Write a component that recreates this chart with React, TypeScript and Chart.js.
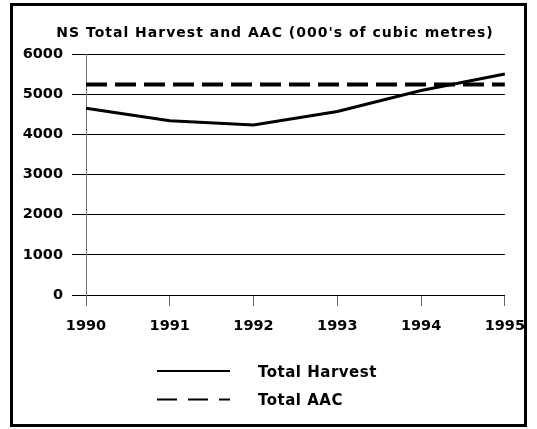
import React, { useEffect, useRef } from 'react';
import { Chart, registerables } from 'chart.js';

Chart.register(...registerables);

const years = ['1990', '1991', '1992', '1993', '1994', '1995'];
const totalHarvest = [4650, 4340, 4235, 4570, 5090, 5500];
const totalAAC = [5240, 5240, 5240, 5240, 5240, 5240];
const seriesLabels = ['Total Harvest', 'Total AAC'];
const titleText = "NS Total Harvest and AAC (000's of cubic metres)";
const yMin = 0;
const yMax = 6000;
const yStep = 1000;

const FONT = '"DejaVu Sans", Verdana, sans-serif';
const legendDashes: number[][] = [[], [20, 11]];

const framePlugin = {
  id: 'framePlugin',
  afterDraw(chart: any) {
    const ctx = chart.ctx;
    ctx.save();
    ctx.setLineDash([]);
    ctx.lineWidth = 3;
    ctx.strokeStyle = '#000';
    ctx.strokeRect(11.5, 4.5, 514, 421);

    ctx.fillStyle = '#000';
    ctx.font = `bold 14px ${FONT}`;
    ctx.letterSpacing = '1px';
    ctx.textAlign = 'center';
    ctx.textBaseline = 'alphabetic';
    ctx.fillText(titleText, 275, 37);

    chart.data.datasets.forEach((ds: any, i: number) => {
      const y = 371 + i * 28.5;
      ctx.beginPath();
      ctx.setLineDash(legendDashes[i] || []);
      ctx.lineWidth = 2;
      ctx.lineCap = 'butt';
      ctx.strokeStyle = ds.borderColor;
      ctx.moveTo(157, y);
      ctx.lineTo(230, y);
      ctx.stroke();
      ctx.setLineDash([]);
      ctx.font = `bold 15px ${FONT}`;
      ctx.letterSpacing = '0.5px';
      ctx.textAlign = 'left';
      ctx.textBaseline = 'alphabetic';
      ctx.fillStyle = '#000';
      ctx.fillText(ds.label, 258, y + 5.5);
    });
    ctx.restore();
  },
};

export default function App() {
  const canvasRef = useRef<HTMLCanvasElement | null>(null);

  useEffect(() => {
    if (!canvasRef.current) return;
    const chart = new Chart(canvasRef.current, {
      type: 'line',
      data: {
        labels: years,
        datasets: [
          {
            label: seriesLabels[0],
            data: totalHarvest,
            borderColor: '#000',
            backgroundColor: '#000',
            borderWidth: 3,
            pointRadius: 0,
            tension: 0,
            fill: false,
          },
          {
            label: seriesLabels[1],
            data: totalAAC,
            borderColor: '#000',
            backgroundColor: '#000',
            borderWidth: 4,
            borderDash: [21, 8],
            borderCapStyle: 'butt',
            pointRadius: 0,
            tension: 0,
            fill: false,
          },
        ],
      },
      options: {
        responsive: false,
        animation: false,
        devicePixelRatio: 1,
        layout: { padding: { top: 54, right: 31, bottom: 94, left: 0 } },
        plugins: {
          legend: { display: false },
          title: { display: false },
          tooltip: { enabled: false },
        },
        scales: {
          x: {
            type: 'category',
            offset: false,
            grid: {
              drawOnChartArea: false,
              drawTicks: true,
              tickLength: 11,
              color: '#666',
            },
            border: { display: true, color: '#000', width: 1 },
            ticks: {
              color: '#000',
              font: { family: FONT, size: 14.5, weight: 'bold' },
              padding: 12,
              maxRotation: 0,
              autoSkip: false,
            },
            afterFit: (s: any) => {
              s.height = 40;
            },
          },
          y: {
            min: yMin,
            max: yMax,
            grid: {
              color: '#000',
              drawTicks: true,
              tickLength: 14,
            },
            border: { display: true, color: '#777', width: 1 },
            ticks: {
              stepSize: yStep,
              color: '#000',
              font: { family: FONT, size: 14.5, weight: 'bold' },
              padding: 9,
              callback: (v: any) => String(v),
            },
            afterFit: (s: any) => {
              s.width = 86;
            },
          },
        },
      },
      plugins: [framePlugin],
    } as any);
    return () => chart.destroy();
  }, []);

  return (
    <div style={{ position: 'fixed', left: 0, top: 0, width: 537, height: 429, background: '#fff' }}>
      <canvas ref={canvasRef} width={537} height={429} style={{ display: 'block' }} />
    </div>
  );
}
